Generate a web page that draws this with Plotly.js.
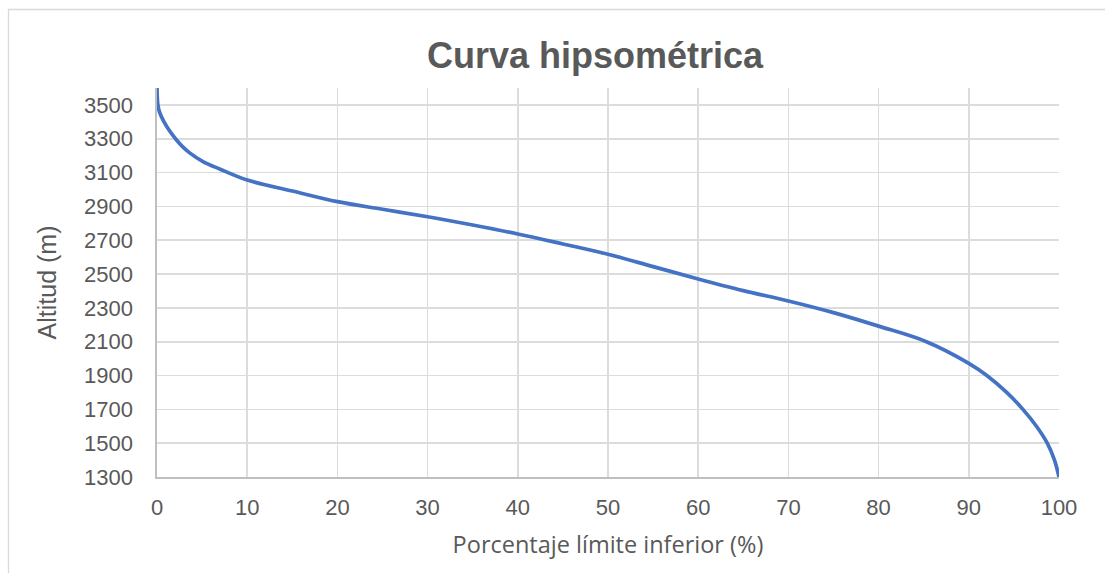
<!DOCTYPE html>
<html>
<head>
<meta charset="utf-8">
<script src="https://cdn.plot.ly/plotly-3.0.1.min.js"></script>
<style>html,body{margin:0;padding:0;background:#fff;}#chart{width:1105px;height:573px;}</style>
</head>
<body>
<div id="chart"></div>
<script>
// Porcentaje del área por encima de cada altitud (curva hipsométrica)
var porcentaje = [0, 0.1, 0.33, 0.78, 1.35, 2.05, 2.8, 3.66, 5.1, 7, 10, 15, 20, 25, 30, 35, 40, 45, 50, 55, 60, 65, 70, 75, 80, 85.3, 90, 92, 94.2, 96, 97.5, 98.7, 99.5, 100];
var altitud =    [3600, 3500, 3450, 3400, 3350, 3300, 3255, 3215, 3165, 3120, 3056, 2991, 2928, 2883, 2839, 2790, 2737, 2678, 2617, 2544, 2471, 2402, 2341, 2272, 2192, 2100, 1972, 1900, 1800, 1700, 1600, 1500, 1400, 1300];
var xTicks = [0, 10, 20, 30, 40, 50, 60, 70, 80, 90, 100];
var yTicks = [1300, 1500, 1700, 1900, 2100, 2300, 2500, 2700, 2900, 3100, 3300, 3500];

var W = 1105, H = 573, L = 157, R = 46, T = 88, B = 96;
var pw = W - L - R, ph = H - T - B;

var trace = {
  x: porcentaje, y: altitud, type: 'scatter', mode: 'lines',
  line: {color: '#4472C4', width: 3.7, shape: 'spline', smoothing: 1},
  hoverinfo: 'x+y'
};

var txt = '#595959';
var layout = {
  width: W, height: H,
  margin: {l: L, r: R, t: T, b: B},
  paper_bgcolor: '#ffffff', plot_bgcolor: '#ffffff',
  showlegend: false,
  font: {family: 'Liberation Sans, Arial, sans-serif', color: txt},
  title: {text: 'Curva hipsométrica', font: {family: 'Liberation Sans, Arial, sans-serif', size: 36, color: txt, weight: 'bold'},
          x: 595 / W, xref: 'container', xanchor: 'center', y: 1 - 55 / H, yref: 'container', yanchor: 'middle'},
  xaxis: {
    range: [0, 100], tickvals: xTicks, ticktext: xTicks.map(String),
    showgrid: true, gridcolor: '#dcdcdc', gridwidth: 1.6,
    zeroline: false, showline: true, linecolor: '#bfbfbf', linewidth: 1.6,
    ticks: '', tickfont: {size: 22, color: txt}, ticklabelstandoff: 10,
    title: {text: 'Porcentaje límite inferior (%)', font: {family: 'Open Sans, Liberation Sans, sans-serif', size: 23.5, color: txt}, standoff: 17},
    automargin: false, fixedrange: true
  },
  yaxis: {
    range: [1300, 3600], tickvals: yTicks, ticktext: yTicks.map(String),
    showgrid: true, gridcolor: '#dcdcdc', gridwidth: 1.6,
    zeroline: false, showline: true, linecolor: '#bfbfbf', linewidth: 1.6,
    ticks: '', tickfont: {size: 22, color: txt}, ticklabelstandoff: 18,
    title: {text: 'Altitud (m)', font: {family: 'Liberation Sans, Arial, sans-serif', size: 25, color: txt}, standoff: 20},
    automargin: false, fixedrange: true
  },
  shapes: [{
    type: 'rect', xref: 'paper', yref: 'paper', layer: 'below',
    x0: (8.5 - L) / pw, x1: (W + 20 - L) / pw,
    y0: -(H + 20 - T - ph) / ph, y1: (H - B - 9.5) / ph,
    line: {color: '#d9d9d9', width: 1.3}, fillcolor: 'rgba(0,0,0,0)'
  }]
};

Plotly.newPlot('chart', [trace], layout, {displayModeBar: false, staticPlot: true});
</script>
</body>
</html>
